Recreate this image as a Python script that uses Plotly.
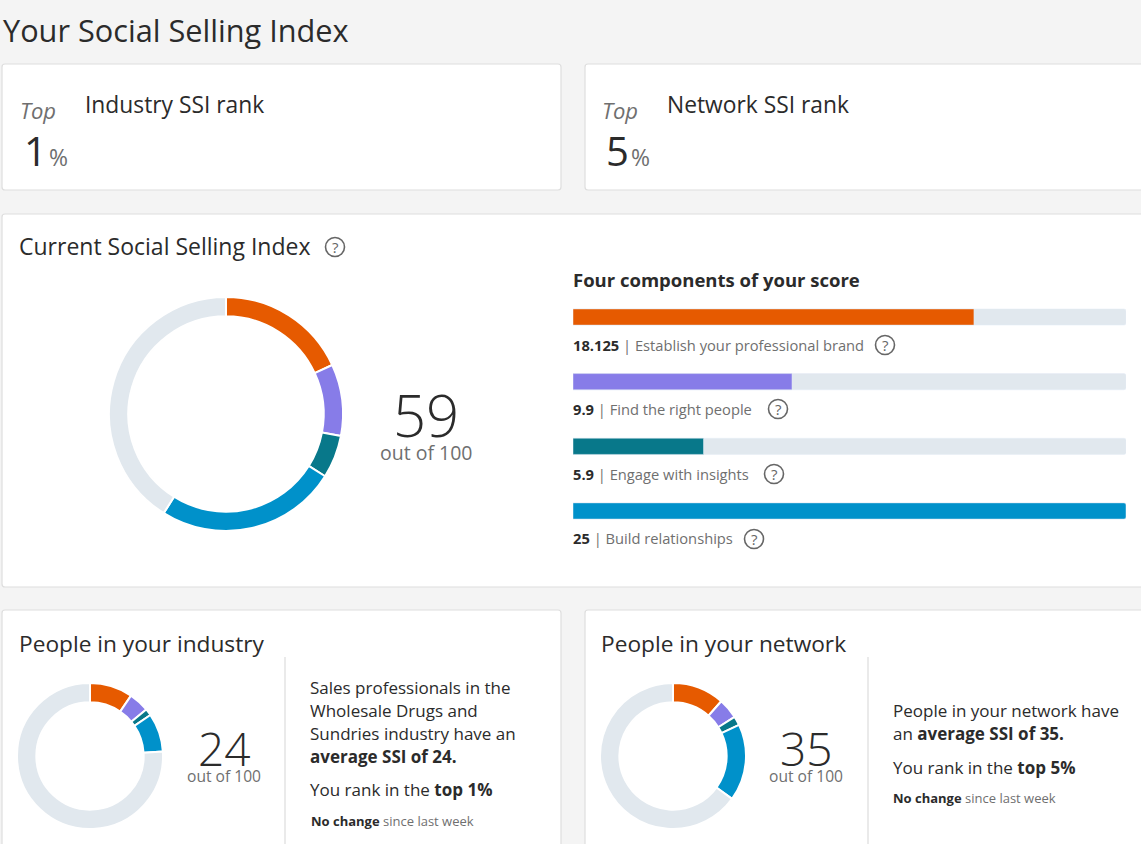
import plotly.graph_objects as go

WIDTH = 1141
HEIGHT = 844

FONT = "Open Sans"
LIGHT_FONT = "Open Sans"
DARK = "#2b2b2b"
GREY = "#6f6f6f"

# score data
components = ["Establish your professional brand", "Find the right people", "Engage with insights", "Build relationships"]
component_labels = ["18.125", "9.9", "5.9", "25"]
component_colors = ["#e65a00", "#877ce8", "#08788a", "#0091ca"]
track_color = "#e1e8ee"
max_scores = [25, 25, 25, 25]

your_scores = [18.125, 9.9, 5.9, 25]
your_total = 59
industry_scores = [9.5, 4.5, 1.5, 8.5]
industry_total = 24
network_scores = [11.5, 4.5, 2, 17]
network_total = 35


def px(x):
    return x / WIDTH


def py(y):
    return 1 - y / HEIGHT


def card(x0, y0, x1, y1, r=3):
    path = (f"M {px(x0 + r)} {py(y0)} L {px(x1 - r)} {py(y0)} Q {px(x1)} {py(y0)} {px(x1)} {py(y0 + r)} "
            f"L {px(x1)} {py(y1 - r)} Q {px(x1)} {py(y1)} {px(x1 - r)} {py(y1)} "
            f"L {px(x0 + r)} {py(y1)} Q {px(x0)} {py(y1)} {px(x0)} {py(y1 - r)} "
            f"L {px(x0)} {py(y0 + r)} Q {px(x0)} {py(y0)} {px(x0 + r)} {py(y0)} Z")
    return dict(type="path", xref="paper", yref="paper", path=path, fillcolor="white",
                line=dict(color="#dedede", width=1.2), layer="below")


def label(x, y, text, size, color=DARK, anchor="left", font=FONT, weight=None):
    return dict(x=px(x), y=py(y), xref="paper", yref="paper", text=text, showarrow=False,
                xanchor=anchor, yanchor="middle", align=anchor, borderpad=0,
                font=dict(family=font, size=size, color=color, weight=weight))


def donut(scores, cx, cy, radius, hole):
    rest = 100 - sum(scores)
    return go.Pie(values=scores + [rest], sort=False, direction="clockwise", rotation=0,
                  hole=hole, textinfo="none", hoverinfo="skip", showlegend=False,
                  marker=dict(colors=component_colors + [track_color], line=dict(color="white", width=2)),
                  domain=dict(x=[px(cx - radius), px(cx + radius)], y=[py(cy + radius), py(cy - radius)]))


shapes = [
    card(2, 64, 561, 190),
    card(585, 64, 1150, 190),
    card(2, 214, 1150, 587),
    card(2, 610, 561, 870),
    card(585, 610, 1150, 870),
]
for x in [285, 868]:
    shapes.append(dict(type="line", xref="paper", yref="paper", x0=px(x), x1=px(x), y0=py(657), y1=py(844),
                       line=dict(color="#dcdcdc", width=1.2)))

annotations = [
    label(2, 30, "Your Social Selling Index", 30.7),
    label(19, 110, "<i>Top</i>", 22, GREY),
    label(23, 150, "1", 40),
    label(48, 157, "%", 23, GREY),
    label(84, 105, "Industry SSI rank", 22.8),
    label(601, 110, "<i>Top</i>", 22, GREY),
    label(605, 150, "5", 40),
    label(630, 157, "%", 23, GREY),
    label(666, 105, "Network SSI rank", 22.8),
    label(18, 246, "Current Social Selling Index", 23),
    label(572, 279, "<b>Four components of your score</b>", 18.5),
    label(426, 414, str(your_total), 58, anchor="center", font=LIGHT_FONT, weight=300),
    label(426, 452, "out of 100", 19.5, GREY, anchor="center"),
    label(18, 643, "People in your industry", 22.7),
    label(600, 643, "People in your network", 22.7),
    label(224, 748, str(industry_total), 46, anchor="center", font=LIGHT_FONT, weight=300),
    label(224, 776, "out of 100", 15.6, GREY, anchor="center"),
    label(806, 748, str(network_total), 46, anchor="center", font=LIGHT_FONT, weight=300),
    label(806, 776, "out of 100", 15.6, GREY, anchor="center"),
    label(309, 687, "Sales professionals in the", 17),
    label(309, 710, "Wholesale Drugs and", 17),
    label(309, 733, "Sundries industry have an", 17),
    label(309, 756, f"<b>average SSI of {industry_total}.</b>", 17),
    label(309, 789, "You rank in the <b>top 1%</b>", 17),
    label(310, 821, f"<b>No change</b> <span style='color:{GREY}'>since last week</span>", 13),
    label(892, 710, "People in your network have", 17),
    label(892, 733, f"an <b>average SSI of {network_total}.</b>", 17),
    label(892, 767, "You rank in the <b>top 5%</b>", 17),
    label(892, 798, f"<b>No change</b> <span style='color:{GREY}'>since last week</span>", 13),
]

# component captions under the bars
caption_y = [345, 409, 474, 538]
for name, value, y in zip(components, component_labels, caption_y):
    annotations.append(label(572, y, f"<b>{value}</b> <span style='color:{GREY}'>| {name}</span>", 14.7))

# help icons
help_icons = [(335, 247), (885, 345), (778, 409), (774, 474), (754, 539)]
for x, y in help_icons:
    shapes.append(dict(type="circle", xref="paper", yref="paper", x0=px(x - 9.5), x1=px(x + 9.5),
                       y0=py(y + 9.5), y1=py(y - 9.5), line=dict(color="#666666", width=1.6)))
    annotations.append(label(x, y, "?", 15, "#666666", anchor="center"))

fig = go.Figure()
fig.add_trace(donut(your_scores, 226, 414, 117, 0.835))
fig.add_trace(donut(industry_scores, 90, 756, 73, 0.735))
fig.add_trace(donut(network_scores, 673, 756, 73, 0.735))

fig.add_trace(go.Bar(y=components, x=max_scores, orientation="h", width=0.25, showlegend=False,
                     marker=dict(color=track_color), hoverinfo="skip"))
fig.add_trace(go.Bar(y=components, x=your_scores, orientation="h", width=0.25, showlegend=False,
                     marker=dict(color=component_colors), hoverinfo="skip"))

fig.update_layout(
    width=WIDTH,
    height=HEIGHT,
    margin=dict(l=0, r=0, t=0, b=0),
    paper_bgcolor="#f4f4f4",
    plot_bgcolor="rgba(0,0,0,0)",
    barmode="overlay",
    barcornerradius=2,
    shapes=shapes,
    annotations=annotations,
    font=dict(family=FONT),
    xaxis=dict(domain=[px(573), px(1126)], range=[0, 25], visible=False, fixedrange=True),
    yaxis=dict(domain=[py(543.3), py(284.7)], range=[3.5, -0.5], visible=False, fixedrange=True),
)

# drop the default page margin so the figure fills the window
fig.write_html("out.html", config=dict(displayModeBar=False),
               post_script="document.body.style.margin = '0'; document.body.style.overflow = 'hidden';")
